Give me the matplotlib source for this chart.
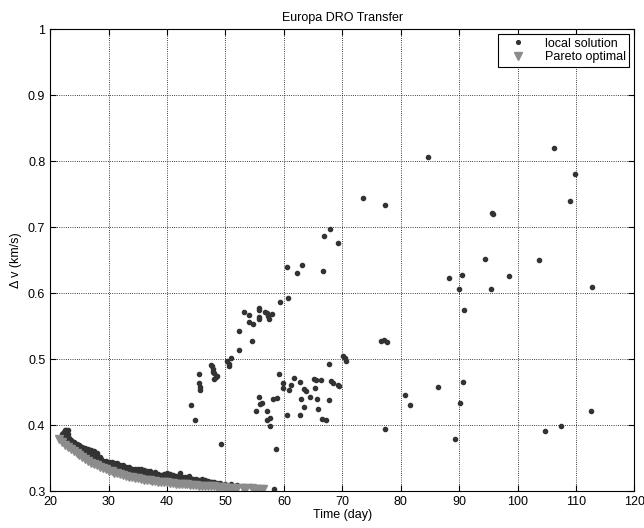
import matplotlib
matplotlib.use("Agg")
import matplotlib.pyplot as plt

plt.rcParams["font.family"] = ["Liberation Sans", "DejaVu Sans"]
plt.rcParams["font.size"] = 9

# Pareto optimal front (grey triangles)
pareto_x = [21.5, 22.0, 22.5, 23.0, 23.5, 24.0, 24.5, 25.0, 25.5, 26.0, 26.5, 27.0,
            27.5, 28.0, 28.5, 29.0, 29.5, 30.0, 30.5, 31.0, 31.5, 32.0, 32.5, 33.0,
            33.5, 34.0, 34.5, 35.0, 35.5, 36.0, 36.5, 37.0, 37.5, 38.0, 38.5, 39.0,
            39.5, 40.0, 40.5, 41.0, 41.5, 42.0, 42.5, 43.0, 43.5, 44.0, 44.5, 45.0,
            45.5, 46.0, 46.5, 47.0, 47.5, 48.0, 48.5, 49.0, 49.5, 50.0, 50.5, 51.0,
            51.5, 52.0, 53.0, 53.5, 54.5, 55.0, 55.5, 56.0, 56.5]
pareto_y = [0.379, 0.374, 0.370, 0.366, 0.363, 0.360, 0.357, 0.354, 0.351, 0.348, 0.346, 0.343,
            0.341, 0.339, 0.337, 0.335, 0.333, 0.331, 0.330, 0.328, 0.327, 0.326, 0.324, 0.323,
            0.322, 0.321, 0.320, 0.319, 0.318, 0.317, 0.317, 0.316, 0.315, 0.315, 0.314, 0.314,
            0.313, 0.313, 0.312, 0.312, 0.311, 0.311, 0.310, 0.310, 0.310, 0.309, 0.309, 0.309,
            0.308, 0.308, 0.308, 0.307, 0.307, 0.307, 0.306, 0.306, 0.306, 0.306, 0.305, 0.305,
            0.305, 0.305, 0.304, 0.304, 0.304, 0.303, 0.303, 0.303, 0.303]

# dense band of local solutions just above the front
band_x = [22.0, 22.5, 23.0, 23.5, 24.0, 24.5, 25.0, 25.5, 26.0, 26.5, 27.0, 27.5,
          28.0, 28.5, 29.0, 29.5, 30.0, 30.5, 31.0, 31.5, 32.0, 32.5, 33.0, 33.5,
          34.0, 34.5, 35.0, 35.5, 36.0, 36.5, 37.0, 37.5, 38.0, 38.5, 39.0, 39.5,
          40.0, 40.5, 41.0, 41.5, 42.0, 42.5, 43.0, 43.5, 44.0, 44.5, 45.0, 45.5,
          46.0, 46.5, 47.0, 47.5, 48.0, 48.5]
band_top = [0.386, 0.393, 0.392, 0.377, 0.374, 0.372, 0.370, 0.367, 0.365, 0.364, 0.362, 0.361,
            0.357, 0.351, 0.346, 0.345, 0.344, 0.344, 0.342, 0.342, 0.340, 0.339, 0.337, 0.336,
            0.334, 0.334, 0.334, 0.333, 0.332, 0.331, 0.330, 0.328, 0.329, 0.326, 0.325, 0.326,
            0.327, 0.326, 0.325, 0.323, 0.322, 0.321, 0.322, 0.320, 0.319, 0.318, 0.318, 0.317,
            0.318, 0.316, 0.315, 0.314, 0.313, 0.312]
band_mid = [0.380, 0.383, 0.378, 0.370, 0.367, 0.364, 0.361, 0.358, 0.356, 0.354, 0.351, 0.349,
            0.347, 0.345, 0.342, 0.340, 0.338, 0.337, 0.335, 0.334, 0.333, 0.331, 0.330, 0.329,
            0.328, 0.327, 0.326, 0.325, 0.324, 0.323, 0.322, 0.321, 0.321, 0.320, 0.319, 0.319,
            0.318, 0.318, 0.317, 0.317, 0.316, 0.315, 0.315, 0.314, 0.314, 0.313, 0.313, 0.312,
            0.312, 0.312, 0.311, 0.311, 0.310, 0.310]
# in-between band solutions
band2_x = [22.25, 22.75, 23.25, 23.75, 24.25, 24.75, 25.25, 25.75, 26.25, 26.75, 27.25, 27.75,
           28.25, 28.75, 29.25, 29.75, 30.25, 30.75, 31.25, 31.75, 32.25, 32.75, 33.25, 33.75,
           34.25, 34.75, 35.25, 35.75, 36.25, 36.75, 37.25, 37.75, 38.25, 38.75, 39.25, 39.75,
           40.25, 40.75, 41.25, 41.75, 42.25, 42.75, 43.25, 43.75, 44.25, 44.75, 45.25, 45.75,
           46.25, 46.75, 47.25, 47.75]
band2_y = [0.388, 0.387, 0.381, 0.373, 0.371, 0.367, 0.366, 0.362, 0.361, 0.358, 0.357, 0.355,
           0.352, 0.348, 0.344, 0.343, 0.341, 0.340, 0.339, 0.338, 0.336, 0.335, 0.334, 0.332,
           0.331, 0.331, 0.330, 0.329, 0.328, 0.327, 0.326, 0.325, 0.324, 0.323, 0.322, 0.322,
           0.322, 0.321, 0.321, 0.320, 0.319, 0.318, 0.318, 0.317, 0.316, 0.316, 0.315, 0.315,
           0.315, 0.314, 0.313, 0.313]

# scattered local solutions
scatter_x = [22.4, 22.7, 23.0, 42.3, 43.8, 49.0, 50.0, 51.0, 52.0, 53.0, 54.4, 58.3,
             44.1, 44.7, 45.5, 45.4, 45.6, 45.7, 47.5, 47.7, 47.9, 47.8, 48.1, 48.5, 48.4, 48.1,
             49.3, 50.9, 50.3, 50.6, 50.6, 52.3, 52.3, 53.1, 54.0, 54.0, 54.5, 54.7,
             55.8, 55.8, 55.8, 55.8, 56.8, 57.1, 57.3, 57.4, 57.9, 59.3, 60.7,
             55.8, 58.8, 58.2, 55.9, 56.3, 55.2, 57.1, 57.7, 57.1, 57.6, 58.7,
             59.2, 59.9, 59.8, 61.7, 61.2, 60.9, 62.7, 63.5, 63.8, 65.1, 65.5, 66.3,
             65.3, 64.4, 62.9, 65.7, 67.8, 68.0, 68.4, 69.3, 69.5, 67.7, 70.2, 70.5, 70.7,
             60.6, 62.7, 63.4, 65.8, 66.6, 67.2,
             60.6, 62.3, 63.1, 66.7, 66.8, 67.9, 69.2, 73.6,
             84.7, 106.2, 109.9, 108.9, 77.3, 95.7, 95.8, 94.5, 103.6, 88.3, 90.5, 98.5,
             90.0, 95.5, 112.8, 90.9, 76.7, 77.2, 77.6, 86.4, 90.6, 80.7, 81.6, 90.1,
             112.5, 77.3, 89.3, 104.7, 107.5]
scatter_y = [0.389, 0.392, 0.387, 0.327, 0.323, 0.312, 0.311, 0.310, 0.309, 0.308, 0.308, 0.303,
             0.430, 0.408, 0.478, 0.463, 0.458, 0.453, 0.491, 0.489, 0.485, 0.481, 0.479, 0.475, 0.473, 0.470,
             0.372, 0.502, 0.497, 0.493, 0.489, 0.542, 0.513, 0.572, 0.567, 0.556, 0.528, 0.553,
             0.578, 0.575, 0.564, 0.561, 0.571, 0.569, 0.565, 0.560, 0.568, 0.586, 0.592,
             0.442, 0.441, 0.439, 0.432, 0.433, 0.421, 0.421, 0.411, 0.407, 0.398, 0.364,
             0.477, 0.463, 0.456, 0.471, 0.461, 0.453, 0.465, 0.455, 0.451, 0.469, 0.468, 0.468,
             0.456, 0.443, 0.439, 0.440, 0.492, 0.467, 0.464, 0.461, 0.459, 0.438, 0.504, 0.501, 0.497,
             0.415, 0.415, 0.427, 0.424, 0.409, 0.408,
             0.639, 0.631, 0.642, 0.633, 0.687, 0.697, 0.676, 0.744,
             0.806, 0.819, 0.780, 0.739, 0.734, 0.722, 0.720, 0.651, 0.650, 0.623, 0.628, 0.626,
             0.606, 0.606, 0.609, 0.575, 0.527, 0.529, 0.526, 0.458, 0.465, 0.446, 0.430, 0.434,
             0.421, 0.394, 0.379, 0.391, 0.399]

local_x = band_x + band_x + band2_x + scatter_x
local_y = band_top + band_mid + band2_y + scatter_y

fig = plt.figure(figsize=(6.44, 5.28), dpi=100)
ax = fig.add_axes([0.078, 0.070, 0.907, 0.875])

ax.plot(local_x, local_y, linestyle="none", marker="o", markersize=3.0,
        color="#333333", label="local solution")
ax.plot(pareto_x, pareto_y, linestyle="none", marker="v", markersize=6,
        color="#8c8c8c", label="Pareto optimal")

ax.set_xlim(20, 120)
ax.set_ylim(0.3, 1.0)
ax.set_xticks(range(20, 121, 10))
ax.set_yticks([0.3, 0.4, 0.5, 0.6, 0.7, 0.8, 0.9, 1.0])
ax.set_yticklabels(["0.3", "0.4", "0.5", "0.6", "0.7", "0.8", "0.9", "1"])
ax.grid(True, color="black", linestyle=":", linewidth=0.6)
ax.tick_params(direction="in", top=True, right=True, length=4, width=0.8)
for s in ax.spines.values():
    s.set_linewidth(0.8)

ax.set_title("Europa DRO Transfer", fontsize=9, pad=6)
ax.set_xlabel("Time (day)", fontsize=9, labelpad=1)
ax.set_ylabel("\u0394 v (km/s)", fontsize=9, labelpad=4)

leg = ax.legend(loc="upper right", fancybox=False, edgecolor="black", framealpha=1,
                borderaxespad=0.4, handletextpad=0.8, borderpad=0.3, labelspacing=0.1,
                handlelength=2.6, fontsize=9, markerscale=0.9)
leg.get_frame().set_linewidth(0.8)

fig.savefig("out.png", dpi=100)
